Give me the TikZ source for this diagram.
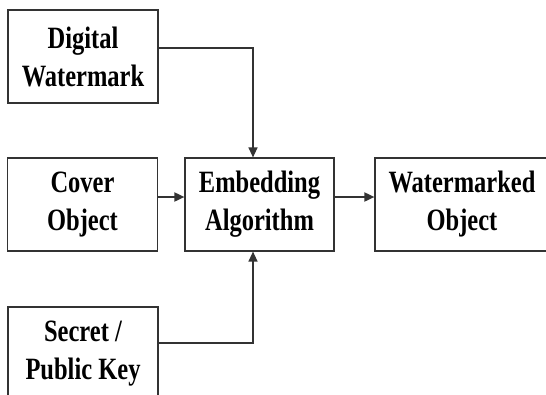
\documentclass[tikz,border=0pt]{standalone}
\usepackage{fontspec}
\setmainfont{Liberation Serif}[FakeStretch=0.79]
\usetikzlibrary{arrows.meta}
\tikzset{
  box/.style={draw=black!80, line width=1.2pt, minimum width=150pt, minimum height=93pt,
    inner sep=0pt, align=center, font=\fontsize{31}{38}\selectfont\bfseries},
  arr/.style={draw=black!80, line width=1.3pt, -{Triangle[length=10pt,width=9pt]}},
  harr/.style={arr, line width=1.8pt}
}
\begin{document}
\begin{tikzpicture}[x=1pt,y=-1pt]
\useasboundingbox (0,0) rectangle (546,394);
\clip (0,0) rectangle (546,394);
\fill[white] (0,0) rectangle (546,394);
\node[box] (dw) at (83,56.5) {Digital\\Watermark};
\node[box] (cover) at (82.5,204.5) {Cover\\Object};
\node[box, minimum width=149pt] (emb) at (259.5,204.5) {Embedding\\Algorithm};
\node[box, minimum width=174pt] (wm) at (462,204.5) {Watermarked\\Object};
\node[box] (sk) at (83,353.5) {Secret /\\Public Key};
\coordinate (vx) at (253,204.5);
\draw[harr] ([yshift=7.5pt]cover.east) -- ([yshift=7.5pt]emb.west);
\draw[harr] ([yshift=7.5pt]emb.east) -- ([yshift=7.5pt]wm.west);
\draw[arr] ([yshift=8.5pt]dw.east) -| (emb.north -| vx);
\draw[arr] ([yshift=10.5pt]sk.east) -| (emb.south -| vx);
\end{tikzpicture}
\end{document}
